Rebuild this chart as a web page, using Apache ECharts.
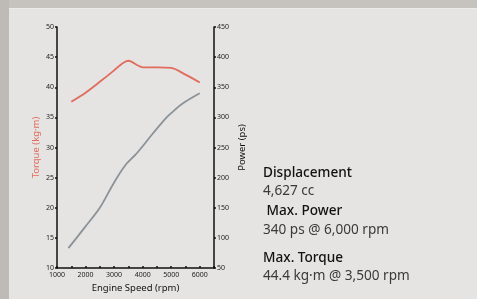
<!DOCTYPE html>
<html>
<head>
<meta charset="utf-8">
<script src="https://cdn.jsdelivr.net/npm/echarts@6/dist/echarts.min.js"></script>
<style>
  html, body { margin: 0; padding: 0; background: #e5e4e2; }
  #chart { width: 477px; height: 299px; }
</style>
</head>
<body>
<div id="chart"></div>
<script>
// 发动机扭矩 / 功率曲线
var rpmTorque = [1500, 2000, 2500, 3000, 3300, 3500, 3800, 4000, 4500, 5000, 5500, 6000]
var torque = [37.6, 39.1, 40.9, 42.8, 44.0, 44.4, 43.7, 43.3, 43.3, 43.2, 42.1, 40.8]
var rpmPower = [1400, 2000, 2500, 3000, 3400, 3750, 4000, 4300, 4800, 5000, 5400, 6000]
var power = [83, 119, 150, 192, 221, 238, 252, 270, 298, 307, 323, 340]
var specLines = [
    { text: 'Displacement', bold: true },
    { text: '4,627 cc', bold: false },
    { text: ' Max. Power', bold: true },
    { text: '340 ps @ 6,000 rpm', bold: false },
    { text: 'Max. Torque', bold: true },
    { text: '44.4 kg·m @ 3,500 rpm', bold: false }
]
var specY = [166, 184, 204, 223, 251, 269]

var font = 'Noto Sans'
var torqueColor = '#e16b5c'
var powerColor = '#8b9399'

function pairs(xs, ys) {
    return xs.map(function (x, i) { return [x, ys[i]] })
}

var myChart = echarts.init(document.getElementById('chart'))

var specTexts = specLines.map(function (l, i) {
    return {
        type: 'text',
        left: 263,
        top: specY[i],
        style: {
            text: l.text,
            font: (l.bold ? '500 ' : '') + '13.6px "' + font + '"',
            fill: l.bold ? '#111' : '#3a3a3a'
        }
    }
})

var option = {
    backgroundColor: '#e5e4e2',
    animation: false,
    graphic: [
        { type: 'rect', left: 0, top: 0, shape: { width: 477, height: 8 }, style: { fill: '#c6c2be' } },
        { type: 'rect', left: 0, top: 8, shape: { width: 477, height: 1 }, style: { fill: '#ecebe9' } },
        { type: 'rect', left: 0, top: 0, shape: { width: 9, height: 299 }, style: { fill: '#bebab6' } }
    ].concat(specTexts),
    grid: { left: 57, right: 263, top: 27, bottom: 31 },
    xAxis: {
        type: 'value',
        min: 1000,
        max: 6500,
        interval: 500,
        name: 'Engine Speed (rpm)',
        nameLocation: 'middle',
        nameGap: 15,
        nameTextStyle: { fontFamily: font, fontSize: 9.5, color: '#111' },
        axisLine: { lineStyle: { color: '#111', width: 1.5 } },
        axisTick: { inside: true, length: 2, lineStyle: { color: '#111', width: 1.5 } },
        axisLabel: {
            fontFamily: font, fontSize: 7, color: '#222', margin: 3,
            formatter: function (v) { return (v % 1000 === 0 && v <= 6000) ? String(v) : '' }
        },
        splitLine: { show: false }
    },
    yAxis: [{
        type: 'value',
        min: 10,
        max: 50,
        interval: 5,
        name: 'Torque (kg·m)',
        nameLocation: 'middle',
        nameRotate: 90,
        nameGap: 16,
        nameTextStyle: { fontFamily: font, fontSize: 9.5, color: torqueColor },
        axisLine: { show: true, lineStyle: { color: '#111', width: 1.5 } },
        axisTick: { show: true, length: 2, lineStyle: { color: '#111', width: 1.5 } },
        axisLabel: { fontFamily: font, fontSize: 7, color: '#222', margin: 3 },
        splitLine: { show: false }
    }, {
        type: 'value',
        position: 'right',
        min: 50,
        max: 450,
        interval: 50,
        name: 'Power (ps)',
        nameLocation: 'middle',
        nameRotate: 90,
        nameGap: 23,
        nameTextStyle: { fontFamily: font, fontSize: 9.5, color: '#111' },
        axisLine: { show: true, lineStyle: { color: '#111', width: 1.5 } },
        axisTick: { show: true, length: 2, lineStyle: { color: '#111', width: 1.5 } },
        axisLabel: { fontFamily: font, fontSize: 7, color: '#222', margin: 3 },
        splitLine: { show: false }
    }],
    series: [{
        name: 'Torque',
        type: 'line',
        yAxisIndex: 0,
        smooth: 0.3,
        symbol: 'none',
        lineStyle: { color: torqueColor, width: 1.8 },
        data: pairs(rpmTorque, torque)
    }, {
        name: 'Power',
        type: 'line',
        yAxisIndex: 1,
        smooth: 0.3,
        symbol: 'none',
        lineStyle: { color: powerColor, width: 1.8 },
        data: pairs(rpmPower, power)
    }]
}

myChart.setOption(option)
</script>
</body>
</html>
